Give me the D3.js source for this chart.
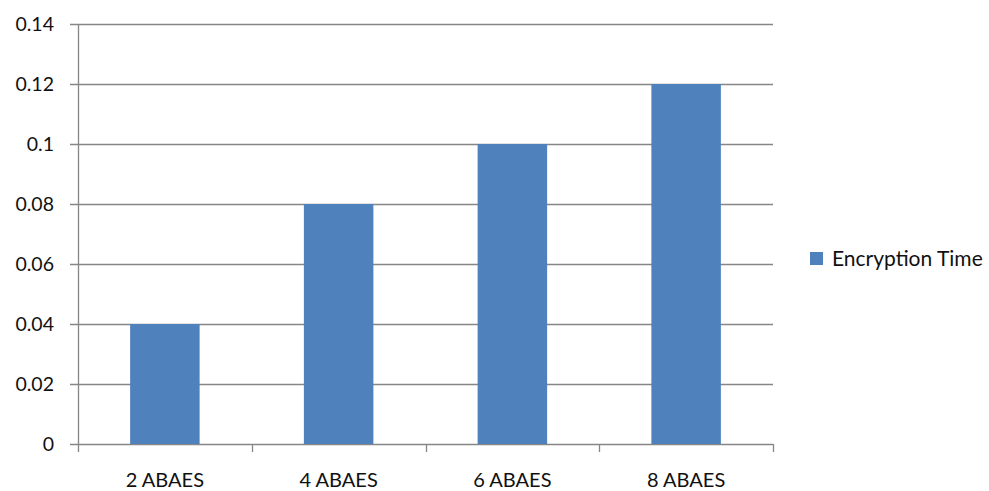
<!DOCTYPE html>
<html>
<head>
<meta charset="utf-8">
<script src="https://cdn.jsdelivr.net/npm/d3@7"></script>
<style>
  body { margin: 0; background: #fff; }
  svg { display: block; font-family: Lato, "Open Sans", sans-serif; }
</style>
</head>
<body>
<svg id="chart"></svg>
<script>
const categories = ['2 ABAES', '4 ABAES', '6 ABAES', '8 ABAES'];
const encryptionTime = [0.04, 0.08, 0.1, 0.12];
const yTicks = [0, 0.02, 0.04, 0.06, 0.08, 0.1, 0.12, 0.14];
const seriesName = 'Encryption Time';

const width = 989;
const height = 491;
const margin = { top: 24, right: 216, bottom: 47, left: 78 };

const svg = d3.select('#chart')
  .attr('width', width)
  .attr('height', height);

const x = d3.scaleBand()
  .domain(categories)
  .range([margin.left, width - margin.right])
  .paddingInner(0.6)
  .paddingOuter(0.3);

const y = d3.scaleLinear()
  .domain([0, 0.14])
  .range([height - margin.bottom, margin.top]);

// gridlines with small ticks on the left
svg.append('g')
  .selectAll('line')
  .data(yTicks)
  .join('line')
  .attr('x1', margin.left - 8)
  .attr('x2', width - margin.right)
  .attr('y1', d => Math.round(y(d)) + 0.5)
  .attr('y2', d => Math.round(y(d)) + 0.5)
  .attr('stroke', '#868686')
  .attr('stroke-width', 1.3);

// y labels
svg.append('g')
  .selectAll('text')
  .data(yTicks)
  .join('text')
  .attr('x', margin.left - 24)
  .attr('y', d => y(d))
  .attr('dy', '0.36em')
  .attr('text-anchor', 'end')
  .attr('font-size', '19.5px')
  .attr('fill', '#111')
  .text(d => d);

// bars
svg.selectAll('.bar')
  .data(encryptionTime)
  .join('rect')
  .attr('class', 'bar')
  .attr('x', (d, i) => x(categories[i]))
  .attr('y', d => y(d))
  .attr('width', x.bandwidth())
  .attr('height', d => y(0) - y(d))
  .attr('fill', '#4f81bd');

// y axis line
svg.append('line')
  .attr('x1', margin.left + 0.5)
  .attr('x2', margin.left + 0.5)
  .attr('y1', y(0.14))
  .attr('y2', y(0) + 8)
  .attr('stroke', '#868686')
  .attr('stroke-width', 1.3);

// x axis category separators
const step = (width - margin.right - margin.left) / categories.length;
svg.append('g')
  .selectAll('line')
  .data(d3.range(1, categories.length + 1))
  .join('line')
  .attr('x1', d => Math.round(margin.left + d * step) + 0.5)
  .attr('x2', d => Math.round(margin.left + d * step) + 0.5)
  .attr('y1', y(0))
  .attr('y2', y(0) + 8)
  .attr('stroke', '#868686')
  .attr('stroke-width', 1.3);

// x labels
svg.append('g')
  .selectAll('text')
  .data(categories)
  .join('text')
  .attr('x', d => x(d) + x.bandwidth() / 2)
  .attr('y', 487)
  .attr('text-anchor', 'middle')
  .attr('font-size', '20px')
  .attr('fill', '#111')
  .text(d => d);

// legend
const legend = svg.append('g').attr('transform', 'translate(810,252)');
legend.append('rect')
  .attr('width', 13)
  .attr('height', 13)
  .attr('fill', '#4f81bd');
legend.append('text')
  .attr('x', 22)
  .attr('y', 6.5)
  .attr('dy', '0.36em')
  .attr('font-size', '21px')
  .attr('fill', '#111')
  .text(seriesName);
</script>
</body>
</html>
